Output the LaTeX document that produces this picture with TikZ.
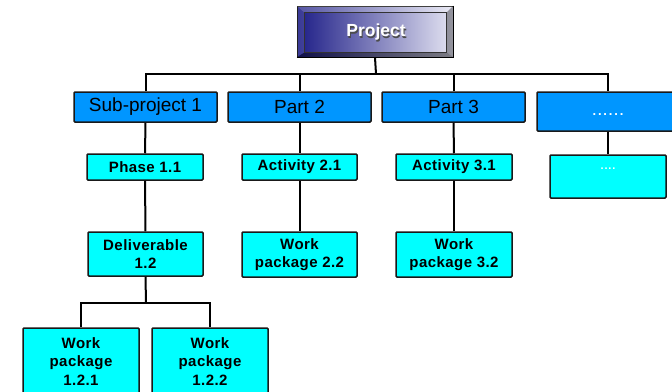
\documentclass[tikz,border=0pt]{standalone}
\usepackage{fontspec}
\setmainfont{Liberation Sans}
\usetikzlibrary{calc}
\definecolor{cBlue}{RGB}{0,150,255}
\definecolor{cCyan}{RGB}{0,255,255}
\definecolor{navyL}{RGB}{30,30,135}
\definecolor{lavR}{RGB}{228,228,242}
\definecolor{cEdge}{RGB}{25,25,25}
\begin{document}
\begin{tikzpicture}[x=1pt,y=-1pt,
  conn/.style={line width=2pt, black},
  bbox/.style={draw=cEdge, line width=1.5pt, fill=cBlue, rounded corners=1pt, inner sep=0pt,
    font=\fontsize{19}{22}\selectfont, align=center},
  cbox/.style={draw=cEdge, line width=1.5pt, fill=cCyan, rounded corners=1pt, inner sep=0pt,
    font=\fontsize{15}{18.5}\selectfont\bfseries\addfontfeature{LetterSpace=3}, align=center},
]
\useasboundingbox (0,0) rectangle (672,391);
\clip (0,0) rectangle (672,391);

% Connectors
\coordinate (bus) at (376,74);
\coordinate (sbus) at (146,303);

% Project box with bevel
\node[draw=black, line width=0.8pt, minimum width=156pt, minimum height=51pt, inner sep=0pt,
      left color=navyL, right color=lavR] (proj) at (375,31.5) {};
\fill[white, opacity=0.25] (proj.north west) -- (proj.north east) -- ($(proj.north east)+(-7,7)$) -- ($(proj.north west)+(8,7)$) -- cycle;
\fill[white, opacity=0.12] (proj.north west) -- ($(proj.north west)+(8,7)$) -- ($(proj.south west)+(8,-5)$) -- (proj.south west) -- cycle;
\fill[black, opacity=0.45] (proj.south west) -- ($(proj.south west)+(8,-5)$) -- ($(proj.south east)+(-7,-5)$) -- (proj.south east) -- cycle;
\fill[black, opacity=0.35] (proj.north east) -- ($(proj.north east)+(-7,7)$) -- ($(proj.south east)+(-7,-5)$) -- (proj.south east) -- cycle;
\draw[black!80, line width=0.6pt] ($(proj.north west)+(8,7)$) rectangle ($(proj.south east)+(-7,-5)$);
\node[text=black!70, font=\fontsize{17.5}{20}\selectfont\bfseries] (projsh) at (377,33.5) {Project};
\node[text=white, font=\fontsize{17.5}{20}\selectfont\bfseries] (projlbl) at (376,32) {Project};

% Level 1
\node[bbox, minimum width=143pt, minimum height=30pt] (sp1) at (145.5,107) {Sub-project 1};
\node[bbox, minimum width=143pt, minimum height=30pt] (p2) at (299.5,107) {Part 2};
\node[bbox, minimum width=143pt, minimum height=30pt] (p3) at (453.5,107) {Part 3};
\node[bbox, minimum width=142pt, minimum height=39pt] (dots) at (608,111.5) {};
\node[text=white, font=\fontsize{13}{16}\selectfont\bfseries\addfontfeature{LetterSpace=14}] (dotslbl) at (608,115) {......};

% Level 2
\node[cbox, minimum width=116pt, minimum height=26pt] (ph11) at (145,167) {Phase 1.1};
\node[cbox, minimum width=115pt, minimum height=26pt] (a21) at (299.5,167) {Activity 2.1};
\node[cbox, minimum width=116pt, minimum height=26pt] (a31) at (454,167) {Activity 3.1};
\node[cbox, minimum width=116pt, minimum height=43pt] (dots2) at (608,176.5) {};
\node[text=white, font=\fontsize{11}{13}\selectfont\bfseries\addfontfeature{LetterSpace=8}] (dots2lbl) at (608,169) {....};

% Level 3
\node[cbox, minimum width=115pt, minimum height=44pt] (del) at (145.5,254) {Deliverable\\1.2};
\node[cbox, minimum width=115pt, minimum height=45pt] (wp22) at (299.5,254.5) {Work\\package 2.2};
\node[cbox, minimum width=116pt, minimum height=45pt] (wp32) at (454,254.5) {Work\\package 3.2};

% Level 4
\node[cbox, minimum width=116pt, minimum height=67pt] (wp121) at (81,361.5) {Work\\package\\1.2.1};
\node[cbox, minimum width=116pt, minimum height=67pt] (wp122) at (210,361.5) {Work\\package\\1.2.2};

\draw[conn] (proj.south) -- (bus);
\draw[conn] (sp1.north) |- (bus) -| (dots.north);
\draw[conn] (p2.north) -- (p2.north |- bus);
\draw[conn] (p3.north) -- (p3.north |- bus);
\draw[conn] (sp1.south) -- (ph11.north);
\draw[conn] (p2.south) -- (a21.north);
\draw[conn] (p3.south) -- (a31.north);
\draw[conn] (dots.south) -- (dots2.north);
\draw[conn] (ph11.south) -- (del.north);
\draw[conn] (a21.south) -- (wp22.north);
\draw[conn] (a31.south) -- (wp32.north);
\draw[conn] (del.south) -- (sbus);
\draw[conn] (wp121.north) |- (sbus) -| (wp122.north);
\end{tikzpicture}
\end{document}
